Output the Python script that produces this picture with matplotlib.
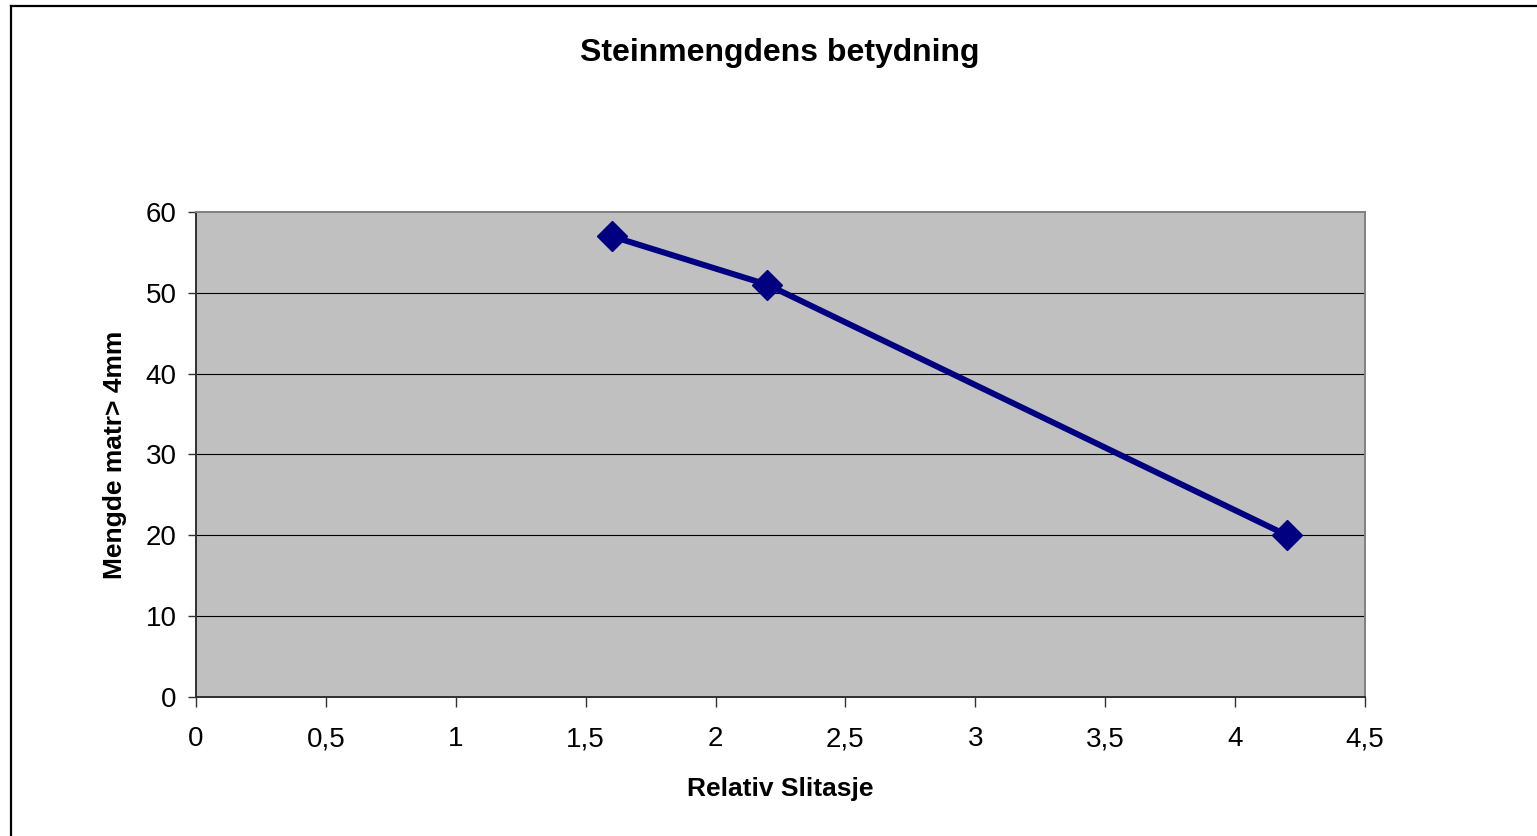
import matplotlib.pyplot as plt
from matplotlib.lines import Line2D

plt.rcParams['font.family'] = ['Liberation Sans', 'DejaVu Sans']

# data
slitasje = [1.6, 2.2, 4.2]
mengde = [57, 51, 20]

x_ticks = [0, 0.5, 1, 1.5, 2, 2.5, 3, 3.5, 4, 4.5]
x_labels = ["0", "0,5", "1", "1,5", "2", "2,5", "3", "3,5", "4", "4,5"]
y_ticks = [0, 10, 20, 30, 40, 50, 60]

fig = plt.figure(figsize=(15.37, 8.36), dpi=100)
ax = fig.add_axes([0.1275, 0.1663, 0.7606, 0.5801])
ax.set_facecolor("#C0C0C0")

# horizontal gridlines
for y in y_ticks[1:-1]:
    ax.axhline(y, color="black", lw=0.8, zorder=1)

ax.plot(slitasje, mengde, color="#000080", lw=4.3, marker="D",
        markersize=15, markerfacecolor="#000080", markeredgecolor="#000080",
        zorder=3, clip_on=False)

ax.set_xlim(0, 4.5)
ax.set_ylim(0, 60)
ax.set_xticks(x_ticks)
ax.set_xticklabels(x_labels)
ax.set_yticks(y_ticks)

for s in ["top", "right"]:
    ax.spines[s].set_color("#808080")
    ax.spines[s].set_linewidth(1.4)
for s in ["left", "bottom"]:
    ax.spines[s].set_color("#303030")
    ax.spines[s].set_linewidth(1.4)

ax.tick_params(axis="both", direction="out", labelsize=20, colors="#303030",
               labelcolor="black", width=1)
ax.tick_params(axis="x", length=7, pad=14)
ax.tick_params(axis="y", length=6, pad=8)

ax.set_xlabel("Relativ Slitasje", fontsize=19, fontweight="bold", labelpad=18)
ax.set_ylabel("Mengde matr> 4mm", fontsize=19, fontweight="bold", labelpad=13)

fig.text(0.5075, 0.937, "Steinmengdens betydning", ha="center", va="center",
         fontsize=23, fontweight="bold")

# outer chart border
fig.add_artist(Line2D([11 / 1537, 11 / 1537], [0, 1 - 5.5 / 836],
                      transform=fig.transFigure, color="black", lw=1.6))
fig.add_artist(Line2D([11 / 1537, 1], [1 - 5.5 / 836, 1 - 5.5 / 836],
                      transform=fig.transFigure, color="black", lw=1.6))

fig.savefig("out.png", dpi=100)
